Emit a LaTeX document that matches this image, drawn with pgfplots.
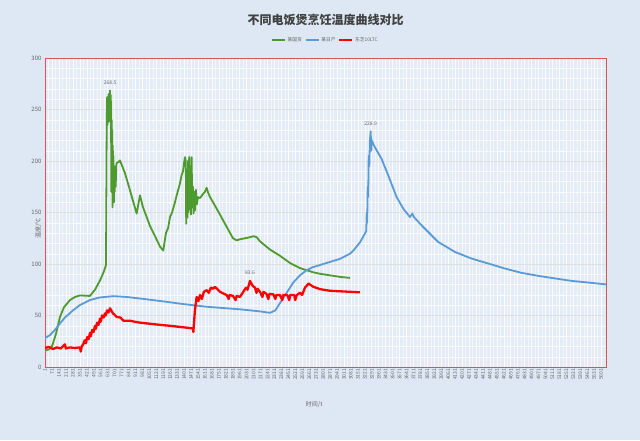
\documentclass[border=0pt]{standalone}
\usepackage{pgfplots}
\pgfplotsset{compat=1.18}
\usepackage{fontspec}
\setmainfont{Noto Sans CJK SC}
\usetikzlibrary{backgrounds}
\definecolor{bgc}{HTML}{DEE8F4}
\definecolor{plotbg}{HTML}{E2EBF6}
\definecolor{gcol}{HTML}{4E9A2E}
\definecolor{bcol}{HTML}{5B9BD5}
\definecolor{rcol}{HTML}{FF0000}
\definecolor{bord}{HTML}{D9534F}
\definecolor{txt}{HTML}{666666}
\begin{document}
\begin{tikzpicture}
\begin{axis}[
  scale only axis, width=561pt, height=309pt,
  xmin=0, xmax=5650, ymin=0, ymax=300,
  axis background/.style={fill=plotbg},
  axis line style={draw=bord, line width=0.8pt},
  xtick={1,71,...,5601},
  ytick={0,50,...,300},
  minor x tick num=1,
  minor y tick num=4,
  tick style={draw=none},
  xmajorgrids, ymajorgrids, xminorgrids, yminorgrids,
  major x grid style={white, line width=0.6pt, opacity=0.9},
  minor x grid style={white, line width=0.35pt, opacity=0.6},
  major y grid style={draw=black!12, line width=0.4pt},
  minor y grid style={white, line width=0.3pt, opacity=0.8},
  /pgf/number format/assume math mode=true,
  /pgf/number format/1000 sep={},
  x tick label style={font=\fontsize{5}{6}\selectfont, text=txt, rotate=90, anchor=east, xshift=-1pt, inner sep=0.5pt},
  y tick label style={font=\fontsize{6}{7}\selectfont, text=txt},
  xlabel={时间/t}, xlabel style={font=\fontsize{6}{7}\selectfont, text=txt, at={(0.48,0)}, anchor=north, yshift=-31pt},
  ylabel={温度/℃}, ylabel style={font=\fontsize{6}{7}\selectfont, text=txt, at={(0,0.5)}, anchor=south, xshift=-16pt},
  legend style={draw=none, fill=none, at={(0.5,1)}, anchor=south, yshift=11pt, font=\fontsize{4.8}{5}\selectfont, text=txt, legend columns=3, /tikz/every even column/.append style={column sep=1pt}},
  legend image code/.code={\draw[#1, line width=1.5pt] (0cm,0cm) -- (0.45cm,0cm);},
  clip=true,
]
\addplot[gcol, line width=1.8pt, line join=round] coordinates {
(0,16) (40,17) (70,20) (110,32) (151,48.7) (191,58) (252,65) (302,68) (352,69.5) (453,69) (503,75) (554,84) (594,93) (614,99)
(619,185) (622,240) (626,262) (629,235) (633,258) (636,245) (640,265) (643,238) (647,262) (650,250) (655,268.5) (658,242) (662,264) (665,250) (668,170) (671,240) (674,175) (677,230) (680,155) (683,215) (686,165) (690,205) (694,160) (698,195) (702,170) (706,190) (712,175) (718,196) (722,198) (740,199) (755,200.6)
(806,188) (856,171.5) (896,158) (923,149) (957,166.7) (987,155) (1024,145.6) (1057,137) (1108,127) (1158,117) (1191,113)
(1218,130) (1240,135) (1259,145.6) (1280,150) (1309,160) (1330,168) (1359,178) (1375,186) (1390,190) (1400,198) (1410,203.7) (1418,200) (1422,139) (1428,185) (1434,145) (1440,200) (1446,150) (1452,204) (1458,160) (1464,195) (1470,148) (1477,203.7) (1483,155) (1490,175) (1496,149) (1505,170) (1512,152) (1520,172) (1530,158) (1541,165) (1561,164) (1591,168) (1610,170) (1628,174) (1640,170)
(1662,165) (1692,160) (1762,148) (1830,136) (1893,125) (1930,123) (1964,124) (2014,125) (2064,126) (2100,127) (2132,126) (2165,122) (2266,114) (2366,108) (2467,101) (2568,96) (2635,94) (2700,92) (2769,90.5) (2870,89) (2971,87.5) (3071,86.5)
};
\addlegendentry{某国货}
\addplot[bcol, line width=1.8pt, line join=round] coordinates {
(0,28) (50,31) (100,36) (151,42.3) (200,48) (285,55.2) (350,60) (453,65) (550,67.5) (690,68.8) (822,68) (1000,66) (1225,63.3) (1359,61.5) (1628,58.5) (1964,56) (2165,54) (2266,52.6) (2320,55) (2366,62) (2400,67) (2467,77) (2500,82) (2568,89) (2635,94) (2700,97) (2769,99) (2870,102) (2971,105) (3071,110) (3105,113) (3172,121) (3222,129.5) (3235,132) (3240,150) (3245,140) (3250,175) (3255,165) (3260,205) (3266,195) (3272,220) (3280,228.9) (3286,210) (3292,220) (3305,216.8) (3322,213.5) (3390,202) (3457,186) (3541,165) (3608,153.8) (3675,145.6) (3700,149) (3712,146) (3792,137.6) (3960,121.4) (4128,111.7) (4296,105.3) (4464,100.5) (4632,95.6) (4800,91.4) (4968,88.5) (5136,86) (5304,83.6) (5472,82) (5650,80.2)
};
\addlegendentry{某日产}
\addplot[rcol, line width=2.3pt, line join=round] coordinates {
(0,18.5) (40,19.5) (80,17.5) (120,19) (160,18) (200,22) (210,18) (250,19) (300,18.5) (352,19) (360,15) (370,20)
(385,22) (395,25) (403,26) (412,23) (425,29) (440,27) (453,33) (462,30) (475,36) (490,34) (503,40) (512,37) (525,43) (540,41) (554,47) (562,44) (575,50) (590,48) (604,52) (612,50) (625,55) (640,53) (655,57)
(685,52) (722,48.7) (760,48) (790,45) (856,45) (900,44) (960,43) (1057,42) (1150,41) (1259,40) (1350,39) (1490,37.5) (1494,34)
(1510,55) (1527,68) (1545,64) (1561,70) (1580,66) (1600,73) (1628,74.6) (1650,72) (1670,77) (1692,76) (1712,77.8) (1762,73) (1830,69.8) (1850,66) (1860,70) (1893,69) (1920,65) (1930,69) (1964,68) (1990,72) (2024,77) (2040,75) (2064,83.6) (2090,79) (2115,77) (2130,72) (2140,76) (2165,73) (2190,68) (2200,73) (2230,71) (2250,66) (2260,71) (2300,70.5) (2320,66) (2330,70) (2366,69.8) (2390,65) (2400,70) (2440,69.8) (2460,65) (2470,70) (2510,69.8) (2520,65) (2535,69.8) (2568,72) (2590,70) (2618,77) (2654,81) (2700,78) (2769,75.6) (2870,74) (2971,73.5) (3071,73) (3172,72.5)
};
\addlegendentry{东芝10LTC}
\node[font=\fontsize{5}{6}\selectfont, text=txt, anchor=south] at (axis cs:655,271) {268.5};
\node[font=\fontsize{5}{6}\selectfont, text=txt, anchor=south] at (axis cs:3280,231) {228.9};
\node[font=\fontsize{5}{6}\selectfont, text=txt, anchor=south] at (axis cs:2064,86) {83.6};
\end{axis}
\node[font=\bfseries\fontsize{12}{14}\selectfont, text=black!75] at (280.5pt,347pt) {不同电饭煲烹饪温度曲线对比};
\begin{pgfonlayer}{background}
\fill[bgc] (-45pt,-73pt) rectangle (595pt,367pt);
\end{pgfonlayer}
\pgfresetboundingbox
\useasboundingbox (-45pt,-73pt) rectangle (595pt,367pt);
\end{tikzpicture}
\end{document}
